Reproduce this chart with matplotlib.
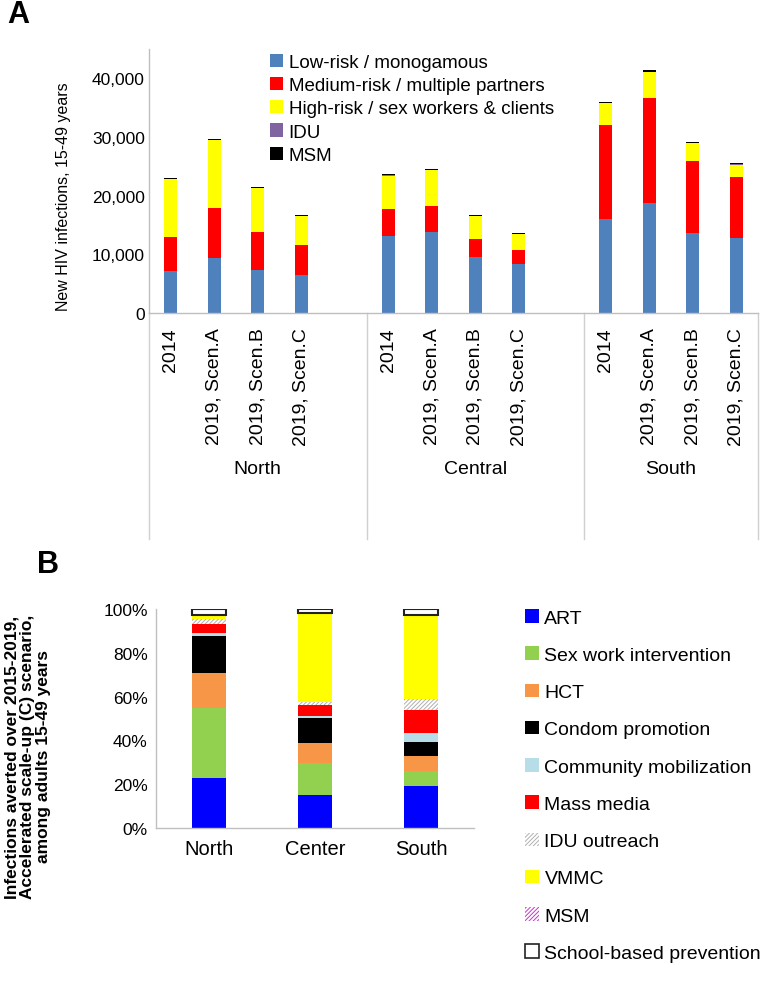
import matplotlib
matplotlib.use("Agg")
import matplotlib.pyplot as plt
import matplotlib.patches as mpatches
from matplotlib.ticker import FuncFormatter
import matplotlib.transforms as mtrans
import numpy as np

plt.rcParams['font.family'] = ['Liberation Sans', 'DejaVu Sans']
plt.rcParams['hatch.linewidth'] = 0.7

# ---------------- Panel A data ----------------
regions_a = ["North", "Central", "South"]
scenarios_a = ["2014", "2019, Scen.A", "2019, Scen.B", "2019, Scen.C"]
risk_groups = ["Low-risk / monogamous", "Medium-risk / multiple partners",
               "High-risk / sex workers & clients", "IDU", "MSM"]
low_risk = [7100, 9400, 7400, 6450, 13100, 13800, 9550, 8350, 16050, 18700, 13700, 12750]
medium_risk = [5900, 8500, 6450, 5100, 4600, 4500, 3000, 2350, 16050, 18000, 12200, 10450]
high_risk = [9800, 11550, 7450, 4950, 5700, 6000, 4000, 2700, 3700, 4400, 3000, 2100]
idu = [40, 40, 40, 40, 40, 40, 40, 40, 40, 40, 40, 40]
msm = [180, 180, 160, 150, 170, 170, 150, 140, 180, 200, 170, 160]
colors_a = ["#4F81BD", "#FF0000", "#FFFF00", "#8064A2", "#000000"]

# ---------------- Panel B data ----------------
regions_b = ["North", "Center", "South"]
interventions = ["ART", "Sex work intervention", "HCT", "Condom promotion",
                 "Community mobilization", "Mass media", "IDU outreach", "VMMC",
                 "MSM", "School-based prevention"]
art = [23.0, 15.0, 19.0]
sex_work = [31.6, 14.5, 7.0]
hct = [16.4, 9.5, 6.8]
condom = [16.5, 11.4, 6.5]
community = [1.6, 0.8, 4.0]
mass_media = [4.0, 4.8, 10.8]
idu_outreach = [2.4, 1.7, 5.0]
vmmc = [1.5, 40.4, 38.1]
msm_b = [0.2, 0.2, 0.2]
school = [2.8, 1.7, 2.6]

fig = plt.figure(figsize=(7.79, 9.95), dpi=100)
W, H = 779, 995

def fx(px):
    return px / W

def fy(py):
    return 1 - py / H

# ================= Panel A =================
axA = fig.add_axes([fx(149), fy(314), fx(758) - fx(149), fy(50) - fy(314)])
pos = []
for g in range(3):
    for i in range(4):
        pos.append(g * 5 + i)
pos = np.array(pos)
series_a = [low_risk, medium_risk, high_risk, idu, msm]
bottom = np.zeros(len(pos))
for vals, col, lab in zip(series_a, colors_a, risk_groups):
    axA.bar(pos, vals, width=0.3, bottom=bottom, color=col, label=lab, linewidth=0)
    bottom += np.array(vals)

axA.set_xlim(-0.5, 13.5)
axA.set_ylim(0, 45000)
axA.set_yticks([0, 10000, 20000, 30000, 40000])
axA.yaxis.set_major_formatter(FuncFormatter(lambda v, p: f"{int(v):,}"))
axA.tick_params(axis='y', length=0, labelsize=12.5, pad=3)
axA.set_xticks(pos)
axA.set_xticklabels(scenarios_a * 3, rotation=90, fontsize=14, va='top', ha='center')
axA.tick_params(axis='x', length=0, pad=10)
for s in ['top', 'right']:
    axA.spines[s].set_visible(False)
for s in ['left', 'bottom']:
    axA.spines[s].set_color('#BFBFBF')
    axA.spines[s].set_linewidth(1.0)
fig.text(fx(64), fy(197), "New HIV infections, 15-49 years", rotation=90,
         fontsize=11.5, ha='center', va='center')

trA = mtrans.blended_transform_factory(axA.transData, axA.transAxes)
ax_h_px = 314 - 50
low_frac = -(540 - 314) / ax_h_px
for xs in [-0.5, 4.5, 9.5, 13.5]:
    axA.plot([xs, xs], [0, low_frac], transform=trA, color='#D0D0D0', lw=1.0, clip_on=False)
group_y = -(470 - 314) / ax_h_px
centers = [2.0, 7.0, 11.5]
for g, name in enumerate(regions_a):
    axA.text(centers[g], group_y, name, transform=trA, ha='center', va='center', fontsize=14)

legA = axA.legend(loc='upper left', bbox_to_anchor=(fx(270), fy(55)), bbox_transform=fig.transFigure,
                  frameon=False, fontsize=13.5, handlelength=0.7, handleheight=0.7,
                  handletextpad=0.3, labelspacing=0.32, borderpad=0, borderaxespad=0)

fig.text(fx(7), fy(15), "A", fontsize=22, fontweight='bold', va='center', ha='left')

# ================= Panel B =================
axB = fig.add_axes([fx(156), fy(829), fx(474) - fx(156), fy(610) - fy(829)])
xb = np.arange(3)
series_b = [art, sex_work, hct, condom, community, mass_media, idu_outreach, vmmc, msm_b, school]
styles = [
    dict(color="#0000FF", linewidth=0),
    dict(color="#92D050", linewidth=0),
    dict(color="#F79646", linewidth=0),
    dict(color="#000000", linewidth=0),
    dict(color="#B7DEE8", linewidth=0),
    dict(color="#FF0000", linewidth=0),
    dict(facecolor="white", edgecolor="#B0B0B0", hatch="////////", linewidth=0),
    dict(color="#FFFF00", linewidth=0),
    dict(facecolor="white", edgecolor="#CC33CC", hatch="////////", linewidth=0),
    dict(facecolor="white", edgecolor="#222222", linewidth=1.5),
]
bottom = np.zeros(3)
handles = []
for vals, st, lab in zip(series_b, styles, interventions):
    axB.bar(xb, vals, width=0.32, bottom=bottom, label=lab, **st)
    bottom += np.array(vals)
    hst = dict(st)
    if lab == "School-based prevention":
        hst['linewidth'] = 1.2
    handles.append(mpatches.Patch(label=lab, **hst))

axB.set_xlim(-0.5, 2.5)
axB.set_ylim(0, 100)
axB.set_yticks([0, 20, 40, 60, 80, 100])
axB.set_yticklabels([f"{v}%" for v in [0, 20, 40, 60, 80, 100]])
axB.tick_params(axis='y', length=0, labelsize=12.5, pad=6)
axB.set_xticks(xb)
axB.set_xticklabels(regions_b, fontsize=14.5)
axB.tick_params(axis='x', length=0, pad=8)
for s in ['top', 'right']:
    axB.spines[s].set_visible(False)
for s in ['left', 'bottom']:
    axB.spines[s].set_color('#BFBFBF')
    axB.spines[s].set_linewidth(1.0)

fig.text(fx(28), fy(757), "Infections averted over 2015-2019,\nAccelerated scale-up (C) scenario,\namong adults 15-49 years",
         rotation=90, fontsize=12.5, fontweight='bold', ha='center', va='center',
         multialignment='center', linespacing=1.05)

fig.legend(handles=handles, loc='upper left', bbox_to_anchor=(fx(525), fy(610)),
           frameon=False, fontsize=14, handlelength=0.7, handleheight=0.7,
           handletextpad=0.3, labelspacing=1.01, borderpad=0, borderaxespad=0)

fig.text(fx(37), fy(565), "B", fontsize=22, fontweight='bold', va='center', ha='left')

fig.savefig("out.png", dpi=100)
